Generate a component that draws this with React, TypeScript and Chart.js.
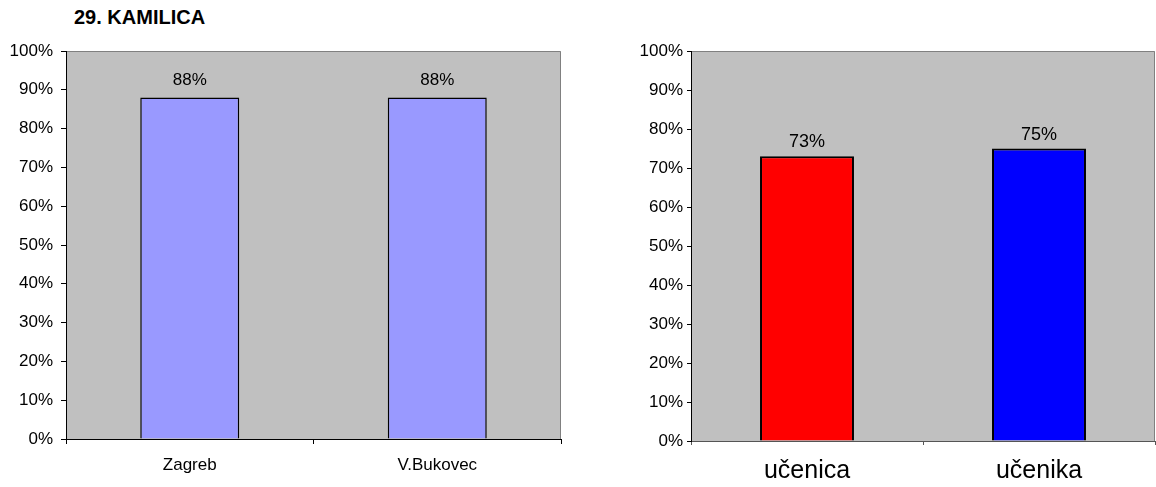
import React, { useEffect, useRef } from "react";
import { Chart, registerables } from "chart.js";

Chart.register(...registerables);

const titleText = "29. KAMILICA";
const leftCategories = ["Zagreb", "V.Bukovec"];
const leftValues = [88, 88];
const leftColors = ["#9999FF", "#9999FF"];
const rightCategories = ["učenica", "učenika"];
const rightValues = [73, 75];
const rightColors = ["#FF0000", "#0000FF"];
const yMin = 0;
const yMax = 100;
const yStep = 10;

const FONT = "'Liberation Sans', Arial, sans-serif";

type Opts = {
  categories: string[];
  values: number[];
  colors: string[];
  yWidth: number;
  xHeight: number;
  padTop: number;
  padRight: number;
  barPct: number;
  borderW: number;
  tickFont: number;
  xFont: number;
  xPad: number;
  yPad: number;
  yTickLen: number;
  xTickLen: number;
  xAxisColor: string;
  labelFont: number;
  labelGap: number;
};

function makeChart(canvas: HTMLCanvasElement, o: Opts) {
  const bgPlugin = {
    id: "bg",
    beforeDraw(chart: any) {
      const { ctx, chartArea: a } = chart;
      ctx.save();
      ctx.fillStyle = "#C0C0C0";
      ctx.fillRect(a.left, a.top, a.right - a.left, a.bottom - a.top);
      ctx.strokeStyle = "#808080";
      ctx.lineWidth = 1;
      ctx.beginPath();
      ctx.moveTo(a.left, a.top + 0.5);
      ctx.lineTo(a.right - 0.5, a.top + 0.5);
      ctx.lineTo(a.right - 0.5, a.bottom);
      ctx.stroke();
      ctx.restore();
    },
  };
  const labelPlugin = {
    id: "vlabels",
    afterDatasetsDraw(chart: any) {
      const { ctx } = chart;
      const meta = chart.getDatasetMeta(0);
      ctx.save();
      ctx.fillStyle = "#000";
      ctx.font = `${o.labelFont}px ${FONT}`;
      ctx.textAlign = "center";
      ctx.textBaseline = "alphabetic";
      meta.data.forEach((bar: any, i: number) => {
        ctx.fillText(`${o.values[i]}%`, bar.x, bar.y - o.labelGap);
      });
      ctx.restore();
    },
  };
  return new Chart(canvas, {
    type: "bar",
    data: {
      labels: o.categories,
      datasets: [
        {
          data: o.values,
          backgroundColor: o.colors,
          borderColor: "#000",
          borderWidth: o.borderW,
          barPercentage: o.barPct,
          categoryPercentage: 1,
        },
      ],
    },
    options: {
      responsive: false,
      animation: false,
      devicePixelRatio: 1,
      layout: { padding: { top: o.padTop, right: o.padRight, left: 0, bottom: 0 } },
      plugins: { legend: { display: false }, tooltip: { enabled: false }, title: { display: false } },
      scales: {
        x: {
          offset: true,
          grid: { offset: true, drawOnChartArea: false, drawTicks: true, tickLength: o.xTickLen, color: o.xAxisColor },
          border: { color: o.xAxisColor, width: 1 },
          ticks: { color: "#000", font: { family: FONT, size: o.xFont }, padding: o.xPad, maxRotation: 0 },
          afterFit: (s: any) => {
            s.height = o.xHeight;
          },
        },
        y: {
          min: yMin,
          max: yMax,
          grid: { drawOnChartArea: false, drawTicks: true, tickLength: o.yTickLen, color: "#000" },
          border: { color: "#000", width: 1 },
          ticks: {
            stepSize: yStep,
            color: "#000",
            font: { family: FONT, size: o.tickFont },
            padding: o.yPad,
            callback: (v: any) => `${v}%`,
          },
          afterFit: (s: any) => {
            s.width = o.yWidth;
          },
        },
      },
    },
    plugins: [bgPlugin, labelPlugin],
  });
}

export default function App() {
  const leftRef = useRef<HTMLCanvasElement>(null);
  const rightRef = useRef<HTMLCanvasElement>(null);

  useEffect(() => {
    const c1 = makeChart(leftRef.current!, {
      categories: leftCategories,
      values: leftValues,
      colors: leftColors,
      yWidth: 66,
      xHeight: 48,
      padTop: 51,
      padRight: 39,
      barPct: 0.4,
      borderW: 1.5,
      tickFont: 17,
      xFont: 17,
      xPad: 11,
      yPad: 8,
      yTickLen: 5,
      xTickLen: 5,
      xAxisColor: "#000",
      labelFont: 17,
      labelGap: 13,
    });
    const c2 = makeChart(rightRef.current!, {
      categories: rightCategories,
      values: rightValues,
      colors: rightColors,
      yWidth: 91,
      xHeight: 46,
      padTop: 51,
      padRight: 1,
      barPct: 0.405,
      borderW: 2,
      tickFont: 17,
      xFont: 25,
      xPad: 11,
      yPad: 4,
      yTickLen: 4,
      xTickLen: 4,
      xAxisColor: "#555",
      labelFont: 18,
      labelGap: 9,
    });
    return () => {
      c1.destroy();
      c2.destroy();
    };
  }, []);

  return (
    <div style={{ position: "absolute", left: 0, top: 0, width: 1156, height: 487, background: "#fff" }}>
      <div
        style={{
          position: "absolute",
          left: 74,
          top: 7,
          fontFamily: FONT,
          fontWeight: "bold",
          fontSize: 20,
          lineHeight: "20px",
          color: "#000",
          whiteSpace: "nowrap",
        }}
      >
        {titleText}
      </div>
      <canvas
        ref={leftRef}
        width={600}
        height={487}
        style={{ position: "absolute", left: 0, top: 0, width: 600, height: 487 }}
      />
      <canvas
        ref={rightRef}
        width={556}
        height={487}
        style={{ position: "absolute", left: 600, top: 0, width: 556, height: 487 }}
      />
    </div>
  );
}
